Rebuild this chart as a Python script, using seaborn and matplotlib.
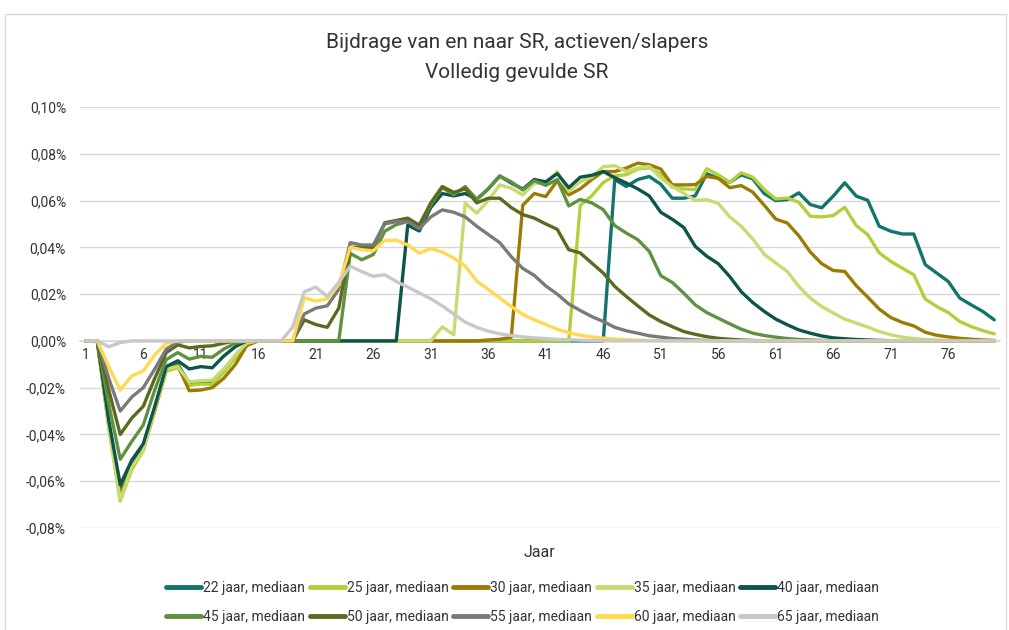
import matplotlib
matplotlib.use("Agg")
import pandas as pd
import matplotlib.pyplot as plt
import seaborn as sns
from matplotlib.ticker import FuncFormatter
from matplotlib.patches import Rectangle

# Bijdrage van en naar SR per leeftijd (in %), jaar 1 t/m 80
jaar = list(range(1, 81))

s22 = [0, 0, -0.035, -0.064, -0.052, -0.045, -0.029, -0.012, -0.010, -0.018,
       -0.0175, -0.0175, -0.013, -0.007, -0.0015, 0, 0, 0, 0, 0,
       0, 0, 0, 0, 0, 0, 0, 0, 0, 0,
       0, 0, 0, 0, 0, 0, 0, 0, 0, 0,
       0, 0, 0, 0, 0, 0, 0.069, 0.066, 0.069, 0.0703,
       0.067, 0.061, 0.061, 0.062, 0.0715, 0.0695, 0.0678, 0.071, 0.0693, 0.063,
       0.060, 0.0604, 0.0633, 0.0583, 0.0569, 0.0619, 0.0676, 0.0619, 0.0601, 0.049,
       0.0469, 0.0457, 0.0457, 0.0326, 0.029, 0.0254, 0.0183, 0.0154, 0.0126, 0.009]

s25 = [0, 0, -0.037, -0.0685, -0.055, -0.047, -0.030, -0.013, -0.0115, -0.019,
       -0.0185, -0.0185, -0.0135, -0.0075, -0.001, 0, 0, 0, 0, 0,
       0, 0, 0, 0, 0, 0, 0, 0, 0, 0,
       0, 0, 0, 0, 0, 0, 0, 0, 0, 0,
       0, 0, 0, 0.058, 0.062, 0.0677, 0.0706, 0.071, 0.0735, 0.074,
       0.0714, 0.0657, 0.065, 0.0647, 0.0736, 0.071, 0.0678, 0.0719, 0.070, 0.0647,
       0.0607, 0.0611, 0.0593, 0.0533, 0.053, 0.0536, 0.0571, 0.0493, 0.0454, 0.0376,
       0.034, 0.0311, 0.0283, 0.0179, 0.0147, 0.0121, 0.0083, 0.0061, 0.0044, 0.003]

s30 = [0, 0, -0.036, -0.066, -0.054, -0.0465, -0.0295, -0.012, -0.0105, -0.0213,
       -0.021, -0.020, -0.016, -0.0102, -0.002, 0, 0, 0, 0, 0,
       0, 0, 0, 0, 0, 0, 0, 0, 0, 0,
       0, 0, 0, 0, 0, 0.0004, 0.0007, 0.0015, 0.058, 0.063,
       0.0617, 0.0685, 0.0624, 0.065, 0.069, 0.0724, 0.0724, 0.0739, 0.076, 0.0753,
       0.0735, 0.0667, 0.0667, 0.0668, 0.0703, 0.0695, 0.0655, 0.0664, 0.0636, 0.058,
       0.0521, 0.0504, 0.045, 0.038, 0.033, 0.0301, 0.0297, 0.0236, 0.0187, 0.0136,
       0.010, 0.0079, 0.0064, 0.0037, 0.0024, 0.0017, 0.0011, 0.0007, 0.0004, 0.0002]

s35 = [0, 0, -0.037, -0.068, -0.054, -0.047, -0.029, -0.012, -0.011, -0.0175,
       -0.017, -0.0168, -0.012, -0.006, -0.001, 0, 0, 0, 0, 0,
       0, 0, 0, 0, 0, 0, 0, 0, 0, 0,
       0, 0.006, 0.0026, 0.0589, 0.0546, 0.060, 0.0667, 0.0653, 0.0624, 0.0674,
       0.0675, 0.0724, 0.064, 0.068, 0.070, 0.0745, 0.0749, 0.0724, 0.0739, 0.0746,
       0.0696, 0.066, 0.0631, 0.060, 0.0604, 0.0588, 0.053, 0.049, 0.0436, 0.037,
       0.0333, 0.0297, 0.0233, 0.0183, 0.0147, 0.0119, 0.0093, 0.0076, 0.0059, 0.004,
       0.0026, 0.0016, 0.001, 0.0006, 0.0004, 0.0002, 0.0001, 0.0001, 0, 0]

s40 = [0, 0, -0.034, -0.0615, -0.051, -0.044, -0.028, -0.011, -0.0085, -0.012,
       -0.011, -0.0115, -0.0065, -0.0025, 0, 0, 0, 0, 0, 0,
       0, 0, 0, 0, 0, 0, 0, 0, 0.0495, 0.047,
       0.057, 0.063, 0.062, 0.063, 0.0605, 0.065, 0.0705, 0.0675, 0.0649, 0.069,
       0.068, 0.0715, 0.0655, 0.070, 0.0708, 0.0724, 0.0698, 0.0675, 0.065, 0.062,
       0.055, 0.052, 0.0485, 0.0404, 0.0362, 0.033, 0.0275, 0.021, 0.0164, 0.0126,
       0.0093, 0.0069, 0.0047, 0.0033, 0.0021, 0.0013, 0.0009, 0.0006, 0.0004, 0.0002,
       0.0001, 0, 0, 0, 0, 0, 0, 0, 0, 0]

s45 = [0, 0, -0.027, -0.0506, -0.043, -0.036, -0.021, -0.008, -0.005, -0.0078,
       -0.0066, -0.007, -0.0035, -0.001, 0, 0, 0, 0, 0, 0,
       0, 0, 0, 0.0374, 0.0347, 0.0369, 0.0469, 0.0497, 0.0511, 0.049,
       0.058, 0.0655, 0.0625, 0.066, 0.0605, 0.065, 0.0705, 0.068, 0.0645, 0.0685,
       0.0665, 0.069, 0.0577, 0.0605, 0.059, 0.0561, 0.0493, 0.0461, 0.0433, 0.0383,
       0.0279, 0.025, 0.0204, 0.0154, 0.0121, 0.0097, 0.0073, 0.005, 0.0033, 0.0023,
       0.0016, 0.001, 0.0006, 0.0004, 0.0002, 0, 0, 0, 0, 0,
       0, 0, 0, 0, 0, 0, 0, 0, 0, 0]

s50 = [0, 0, -0.021, -0.040, -0.033, -0.028, -0.016, -0.005, -0.0017, -0.003,
       -0.0024, -0.0021, -0.001, 0, 0, 0, 0, 0, 0, 0.009,
       0.007, 0.0058, 0.014, 0.040, 0.040, 0.040, 0.0505, 0.0515, 0.0525, 0.0495,
       0.059, 0.066, 0.0635, 0.065, 0.059, 0.061, 0.061, 0.057, 0.054, 0.0525,
       0.050, 0.0477, 0.039, 0.0376, 0.0333, 0.029, 0.0233, 0.019, 0.015, 0.0111,
       0.0083, 0.0061, 0.004, 0.0028, 0.0018, 0.0011, 0.0007, 0.0004, 0.0002, 0,
       0, 0, 0, 0, 0, 0, 0, 0, 0, 0,
       0, 0, 0, 0, 0, 0, 0, 0, 0, 0]

s55 = [0, 0, -0.016, -0.030, -0.024, -0.020, -0.012, -0.0035, -0.0005, 0,
       0, 0, 0, 0, 0, 0, 0, 0, 0, 0.0115,
       0.014, 0.015, 0.022, 0.042, 0.041, 0.041, 0.050, 0.051, 0.051, 0.048,
       0.053, 0.056, 0.055, 0.053, 0.049, 0.0455, 0.042, 0.036, 0.031, 0.028,
       0.0235, 0.020, 0.0158, 0.013, 0.0104, 0.0083, 0.0058, 0.0043, 0.0033, 0.0022,
       0.0016, 0.001, 0.0007, 0.0004, 0.0002, 0, 0, 0, 0, 0,
       0, 0, 0, 0, 0, 0, 0, 0, 0, 0,
       0, 0, 0, 0, 0, 0, 0, 0, 0, 0]

s60 = [0, 0, -0.011, -0.021, -0.015, -0.0128, -0.006, -0.001, 0, 0,
       0, 0, 0, 0, 0, 0, 0, 0, 0, 0.0185,
       0.017, 0.018, 0.024, 0.040, 0.039, 0.0385, 0.043, 0.043, 0.041, 0.0375,
       0.0395, 0.038, 0.0354, 0.032, 0.0256, 0.022, 0.0183, 0.0147, 0.0113, 0.009,
       0.007, 0.005, 0.0035, 0.0024, 0.0017, 0.0012, 0.0008, 0.0005, 0.0003, 0.0002,
       0, 0, 0, 0, 0, 0, 0, 0, 0, 0,
       0, 0, 0, 0, 0, 0, 0, 0, 0, 0,
       0, 0, 0, 0, 0, 0, 0, 0, 0, 0]

s65 = [0, 0, -0.0025, -0.0007, 0, 0, 0, 0, 0, 0,
       0, 0, 0, 0, 0, 0, 0, 0, 0.006, 0.021,
       0.023, 0.019, 0.025, 0.032, 0.0296, 0.0276, 0.0283, 0.0254, 0.023, 0.0205,
       0.018, 0.015, 0.0115, 0.008, 0.0058, 0.0042, 0.003, 0.0023, 0.0017, 0.0013,
       0.001, 0.0007, 0.0005, 0.0003, 0.0002, 0.0001, 0, 0, 0, 0,
       0, 0, 0, 0, 0, 0, 0, 0, 0, 0,
       0, 0, 0, 0, 0, 0, 0, 0, 0, 0,
       0, 0, 0, 0, 0, 0, 0, 0, 0, 0]

reeksen = ["22 jaar, mediaan", "25 jaar, mediaan", "30 jaar, mediaan", "35 jaar, mediaan",
           "40 jaar, mediaan", "45 jaar, mediaan", "50 jaar, mediaan", "55 jaar, mediaan",
           "60 jaar, mediaan", "65 jaar, mediaan"]
kleuren = ["#12756b", "#b3cf3b", "#9b7b04", "#c6dc70", "#0d544a",
           "#5f9140", "#5a6a1e", "#7a7a7a", "#ffd94f", "#c8c8c8"]
y_ticks = [-0.08, -0.06, -0.04, -0.02, 0.0, 0.02, 0.04, 0.06, 0.08, 0.10]
x_ticks = [1, 6, 11, 16, 21, 26, 31, 36, 41, 46, 51, 56, 61, 66, 71, 76]

df = pd.DataFrame({"Jaar": jaar})
for naam, waarden in zip(reeksen, [s22, s25, s30, s35, s40, s45, s50, s55, s60, s65]):
    df[naam] = waarden
lang = df.melt(id_vars="Jaar", var_name="reeks", value_name="bijdrage")

sns.set_theme(style="white")
plt.rcParams["font.family"] = ["Roboto", "DejaVu Sans"]
tekstkleur = "#333333"

fig = plt.figure(figsize=(10.09, 6.30), dpi=100)
ax = fig.add_axes([80 / 1009, 102 / 630, 920 / 1009, 421 / 630])

sns.lineplot(data=lang, x="Jaar", y="bijdrage", hue="reeks", hue_order=reeksen,
             palette=kleuren, linewidth=2.4, ax=ax)

ax.set_xlim(0.5, 80.5)
ax.set_ylim(-0.08, 0.10)
ax.set_yticks(y_ticks)
ax.yaxis.set_major_formatter(FuncFormatter(lambda v, _: f"{round(v, 4) + 0.0:.2f}%".replace(".", ",")))
ax.set_xticks(x_ticks)
ax.grid(axis="y", color="#d9d9d9", linewidth=1, zorder=0)
ax.set_axisbelow(True)
for kant in ["top", "right", "left"]:
    ax.spines[kant].set_visible(False)
ax.spines["bottom"].set_position(("data", 0))
ax.spines["bottom"].set_color("#d9d9d9")
ax.spines["bottom"].set_zorder(0.5)
ax.tick_params(axis="both", length=0, labelsize=10, colors=tekstkleur)
ax.tick_params(axis="y", pad=10)
ax.tick_params(axis="x", pad=5)
ax.set_xlabel("Jaar", fontsize=11.5, color=tekstkleur)
ax.xaxis.set_label_coords(0.5, -0.04)
ax.set_ylabel("")

# legenda rij voor rij, zoals in Excel
handles, labels = ax.get_legend_handles_labels()
ax.get_legend().remove()
volgorde = [0, 5, 1, 6, 2, 7, 3, 8, 4, 9]
leg = fig.legend([handles[i] for i in volgorde], [labels[i] for i in volgorde],
                 ncol=5, loc="center", bbox_to_anchor=(0.518, 0.044), frameon=False,
                 fontsize=10, handlelength=2.5, handletextpad=0.15,
                 columnspacing=0.35, labelspacing=1.1)
for t in leg.get_texts():
    t.set_color(tekstkleur)
for lijn in leg.get_lines():
    lijn.set_linewidth(3.5)

fig.text(517 / 1009, 1 - 43 / 630, "Bijdrage van en naar SR, actieven/slapers",
         ha="center", va="center", fontsize=15, color=tekstkleur)
fig.text(517 / 1009, 1 - 72 / 630, "Volledig gevulde SR",
         ha="center", va="center", fontsize=15, color=tekstkleur)

fig.patches.append(Rectangle((5 / 1009, -0.05), 1001 / 1009, 0.05 + 1 - 14 / 630,
                             transform=fig.transFigure, fill=False,
                             edgecolor="#d9d9d9", linewidth=1))

fig.savefig("out.png", dpi=100)
